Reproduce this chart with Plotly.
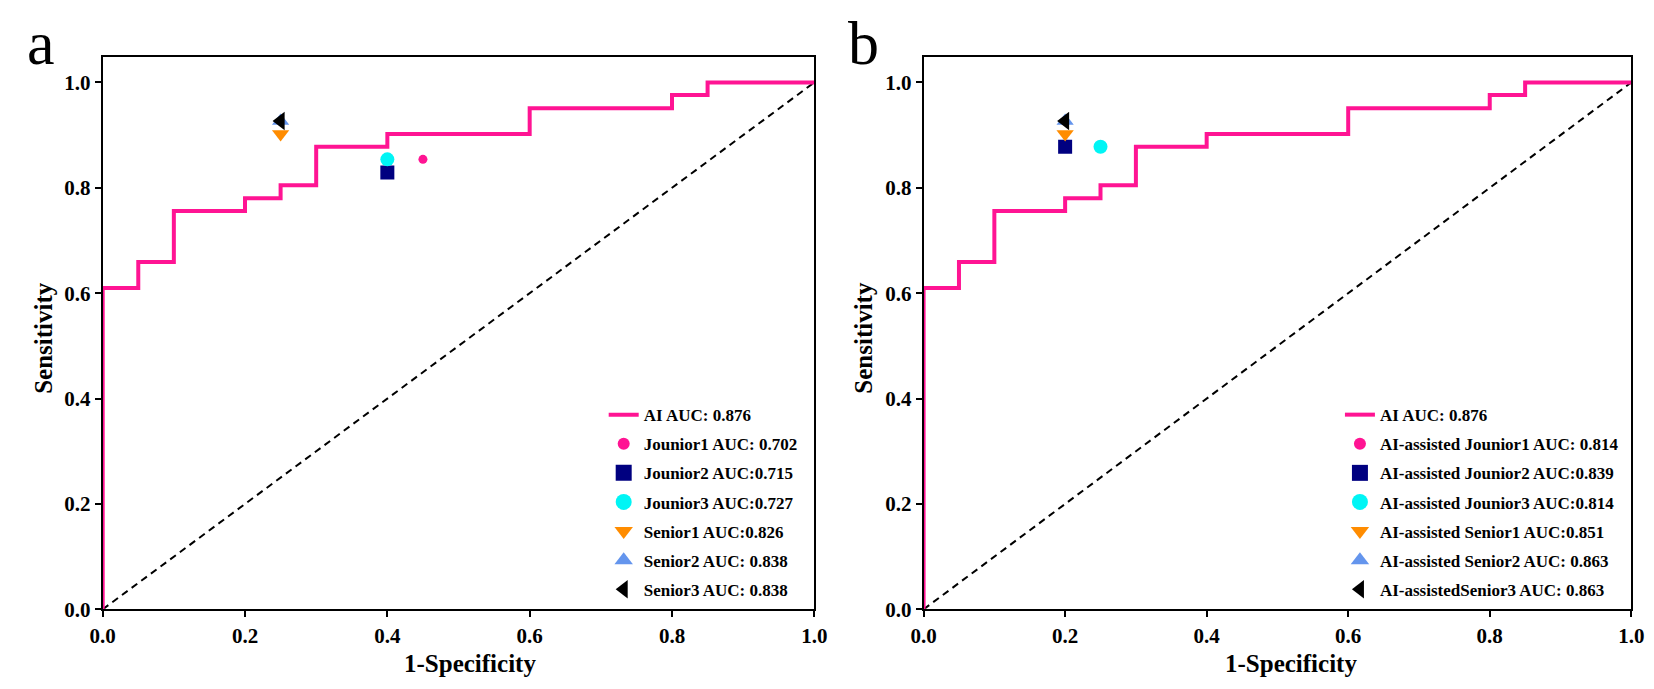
import plotly.graph_objects as go

# Curva ROC del modelo de IA (puntos de escalón)
roc_fpr = [0.0, 0.0, 0.05, 0.10, 0.20, 0.25, 0.30, 0.40, 0.60, 0.80, 0.85, 1.0]
roc_tpr = [0.0, 0.610, 0.659, 0.756, 0.780, 0.805, 0.878, 0.902, 0.951, 0.976, 1.0, 1.0]
roc_name = "AI AUC: 0.876"

# Lectores sin ayuda (panel a)
readers_a = ["Jounior1 AUC: 0.702", "Jounior2 AUC:0.715", "Jounior3 AUC:0.727",
             "Senior1 AUC:0.826", "Senior2 AUC: 0.838", "Senior3 AUC: 0.838"]
fpr_a = [0.45, 0.40, 0.40, 0.25, 0.25, 0.25]
tpr_a = [0.854, 0.829, 0.854, 0.902, 0.927, 0.927]

# Lectores con ayuda de IA (panel b)
readers_b = ["AI-assisted Jounior1 AUC: 0.814", "AI-assisted Jounior2 AUC:0.839",
             "AI-assisted Jounior3 AUC:0.814", "AI-assisted Senior1 AUC:0.851",
             "AI-assisted Senior2 AUC: 0.863", "AI-assistedSenior3 AUC: 0.863"]
fpr_b = [0.25, 0.20, 0.25, 0.20, 0.20, 0.20]
tpr_b = [0.878, 0.878, 0.878, 0.902, 0.927, 0.927]

tick_vals = [0.0, 0.2, 0.4, 0.6, 0.8, 1.0]
tick_text = ["0.0", "0.2", "0.4", "0.6", "0.8", "1.0"]

## ESTILOS
W, H = 1654, 689
PINK = "#ff1493"
symbols = ["circle", "square", "circle", "triangle-down", "triangle-up", "triangle-left"]
colors = ["#ff1493", "#000080", "#00f5f5", "#ff8c00", "#6495ed", "#000000"]
plot_sizes = [9, 14, 14, 15, 15, 16]
leg_sizes = [12, 16, 16, 16, 16, 16]
SERIF = "Liberation Serif, Times New Roman, serif"

# Dominios de cada panel (px -> fracción)
x0a, x1a = 83 / W, 806 / W
x0b, x1b = 917 / W, 1636 / W
ybot, ytop = 1 - 612 / H, 1 - 50 / H

fig = go.Figure()


def add_panel(fig, xa, ya, legend, names, fx, fy):
    # diagonal de referencia
    fig.add_trace(go.Scatter(
        x=[0, 1], y=[0, 1], mode="lines", xaxis=xa, yaxis=ya,
        line=dict(color="black", width=2, dash="7px,5px"),
        showlegend=False, hoverinfo="skip",
    ))
    # curva ROC
    fig.add_trace(go.Scatter(
        x=roc_fpr, y=roc_tpr, mode="lines", name=roc_name, xaxis=xa, yaxis=ya,
        line=dict(color=PINK, width=4, shape="hv"),
        legend=legend, legendgroup=legend + "roc",
    ))
    # puntos de los lectores
    for i, n in enumerate(names):
        fig.add_trace(go.Scatter(
            x=[fx[i]], y=[fy[i]], mode="markers", xaxis=xa, yaxis=ya,
            marker=dict(symbol=symbols[i], color=colors[i], size=plot_sizes[i]),
            showlegend=False, name=n,
        ))
        # entrada de leyenda con símbolo más grande
        fig.add_trace(go.Scatter(
            x=[None], y=[None], mode="markers", name=n, xaxis=xa, yaxis=ya,
            marker=dict(symbol=symbols[i], color=colors[i], size=leg_sizes[i]),
            legend=legend, legendgroup=legend + str(i),
        ))


add_panel(fig, "x", "y", "legend", readers_a, fpr_a, tpr_a)
add_panel(fig, "x2", "y2", "legend2", readers_b, fpr_b, tpr_b)

axis_common = dict(
    showgrid=False, zeroline=False, showline=True, linecolor="black", linewidth=2,
    mirror=True, ticks="outside", ticklen=6, tickwidth=2, tickcolor="black",
    tickvals=tick_vals, ticktext=tick_text,
    tickfont=dict(family=SERIF, size=21, color="black", weight="bold"),
)

legend_common = dict(
    font=dict(family=SERIF, size=17, color="black", weight="bold"),
    bgcolor="rgba(0,0,0,0)", tracegroupgap=4, xanchor="left", yanchor="top",
)

fig.update_layout(
    width=W, height=H,
    margin=dict(l=0, r=0, t=0, b=0),
    plot_bgcolor="white", paper_bgcolor="white",
    xaxis=dict(domain=[x0a, x1a], range=[0, 1], anchor="y", **axis_common),
    yaxis=dict(domain=[ybot, ytop], range=[0, 1.048], anchor="x", **axis_common),
    xaxis2=dict(domain=[x0b, x1b], range=[0, 1], anchor="y2", **axis_common),
    yaxis2=dict(domain=[ybot, ytop], range=[0, 1.048], anchor="x2", **axis_common),
    legend=dict(x=592 / W, y=1 - 396 / H, **legend_common),
    legend2=dict(x=1340 / W, y=1 - 396 / H, **legend_common),
)

# Etiquetas de panel y títulos de ejes
title_font = dict(family=SERIF, size=25, color="black", weight="bold")
for lab, lx in [("a", 20), ("b", 856)]:
    fig.add_annotation(text=lab, x=lx / W, y=1, xref="paper", yref="paper",
                       showarrow=False, xanchor="center", yanchor="top", borderpad=0,
                       font=dict(family=SERIF, size=62, color="black"))
for cx, yx in [(456, 22), (1290, 856)]:
    fig.add_annotation(text="1-Specificity", x=cx / W, y=1 - 667 / H,
                       xref="paper", yref="paper", showarrow=False,
                       xanchor="center", yanchor="middle", font=title_font)
    fig.add_annotation(text="Sensitivity", x=yx / W, y=1 - 336 / H, textangle=-90,
                       xref="paper", yref="paper", showarrow=False,
                       xanchor="center", yanchor="middle", font=title_font)

fig.write_html("out.html")
